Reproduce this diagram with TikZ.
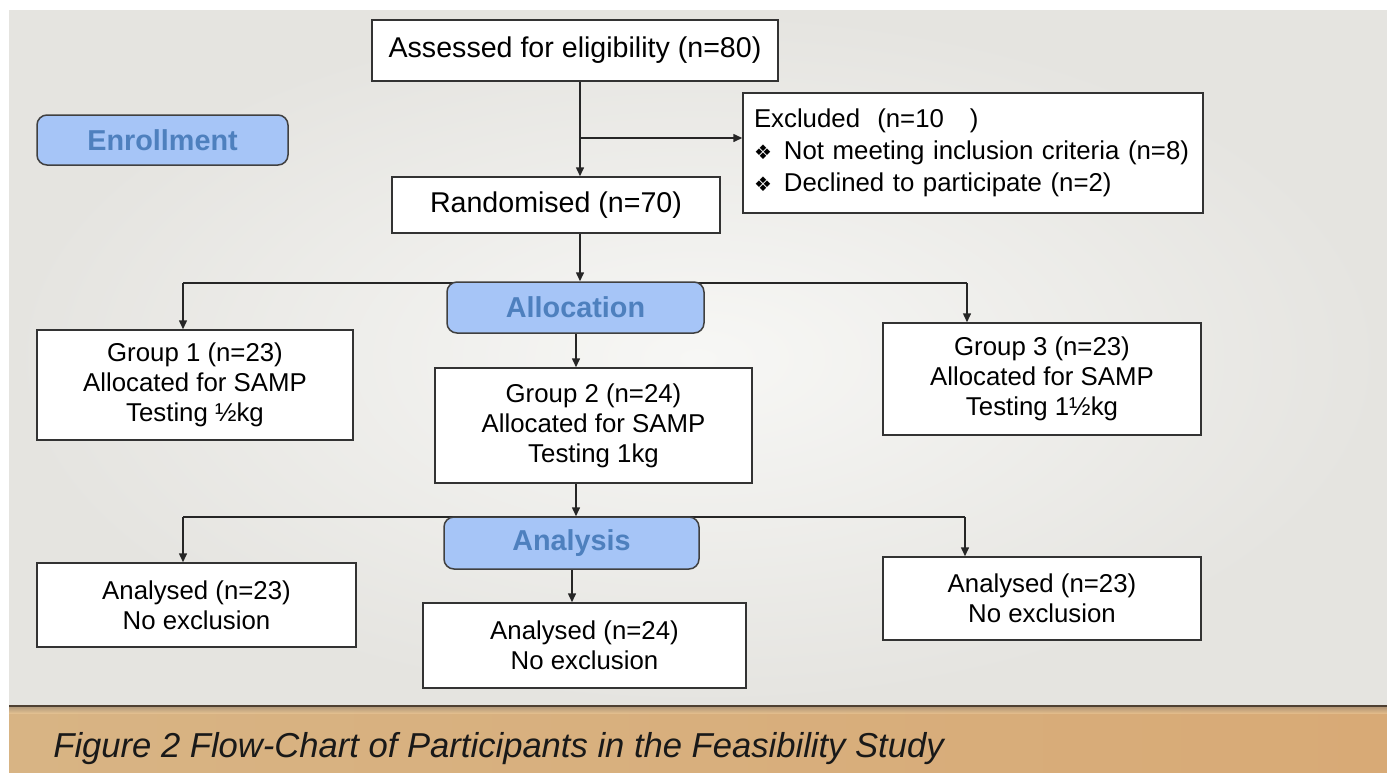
\documentclass[tikz,border=0pt]{standalone}
\usepackage{fontspec}
\setmainfont{Liberation Sans}
\newfontfamily\symfont{DejaVu Sans}
\usetikzlibrary{arrows.meta, positioning, calc, backgrounds}
\definecolor{panelin}{RGB}{247,247,245}
\definecolor{panelout}{RGB}{229,228,224}
\definecolor{stagefill}{RGB}{166,197,247}
\definecolor{stagetext}{RGB}{78,128,190}
\definecolor{woodlight}{RGB}{234,202,156}
\definecolor{woodleft}{RGB}{216,180,132}
\definecolor{woodright}{RGB}{216,170,118}
\definecolor{woodedge}{RGB}{78,64,50}

\tikzset{
  box/.style={draw=black!80, line width=0.75pt, fill=white, align=center,
    inner sep=0pt, font=\fontsize{12.9}{15}\selectfont},
  bigbox/.style={box, font=\fontsize{14.3}{17}\selectfont},
  stage/.style={draw=black!75, line width=0.75pt, fill=stagefill,
    rounded corners=5pt, inner sep=0pt, text=stagetext,
    font=\fontsize{14.4}{17}\selectfont\bfseries},
  flow/.style={draw=black!85, line width=0.75pt},
  arr/.style={flow, -{Triangle[width=4pt,length=4.5pt]}},
}
\newcommand{\bul}{{\symfont\fontsize{10}{15}\selectfont ❖}\hspace{6pt}}

\begin{document}
\begin{tikzpicture}[x=0.5pt, y=-0.5pt]
  \useasboundingbox (0,0) rectangle (1387,772);

  % slide panel and wooden strip
  \begin{pgfonlayer}{background}
    \fill[white] (0,0) rectangle (1387,772);
    \shade[inner color=panelin, outer color=panelout] (9,10) rectangle (1387,706);
    \shade[left color=woodleft, middle color=woodlight, right color=woodright]
      (9,706) rectangle (1387,772);
    \shade[top color=woodedge!70, bottom color=woodlight, opacity=0.5]
      (9,706) rectangle (1387,713);
    \draw[woodedge, line width=1pt] (9,706) -- (1387,706);
  \end{pgfonlayer}

  % stage labels
  \node[stage, minimum width=125.5pt, minimum height=25pt] (enrol) at (162.5,140) {Enrollment};
  \node[stage, minimum width=128.5pt, minimum height=25.5pt] (alloc) at (575.5,307.5) {Allocation};
  \node[stage, minimum width=127.5pt, minimum height=26pt] (anal) at (571.5,543) {Analysis};

  % enrolment
  \node[bigbox, minimum width=203pt, minimum height=30.5pt] (assess) at (575,50.5)
    {Assessed for eligibility (n=80)};
  \node[bigbox, minimum width=164pt, minimum height=28pt] (rand) at (556,205)
    {Randomised (n=70)};
  \node[box, align=left, text width=219pt, inner xsep=5.5pt, minimum height=60pt,
    font=\fontsize{12.9}{16}\selectfont] (excl) at (973,153)
    {Excluded\ \ (n=10\ \ \ )\\
     \bul Not meeting inclusion criteria (n=8)\\
     \bul Declined to participate (n=2)};

  % allocation
  \node[box, minimum width=158pt, minimum height=55pt] (grp1) at (195,385)
    {Group 1 (n=23)\\Allocated for SAMP\\Testing ½kg};
  \node[box, minimum width=158.5pt, minimum height=57.5pt] (grp2) at (593.5,425.5)
    {Group 2 (n=24)\\Allocated for SAMP\\Testing 1kg};
  \node[box, minimum width=159pt, minimum height=56pt] (grp3) at (1042,379)
    {Group 3 (n=23)\\Allocated for SAMP\\Testing 1½kg};

  % analysis
  \node[box, minimum width=159.5pt, minimum height=42pt] (an1) at (196.5,605)
    {Analysed (n=23)\\No exclusion};
  \node[box, minimum width=161.5pt, minimum height=42.5pt] (an2) at (584.5,645.5)
    {Analysed (n=24)\\No exclusion};
  \node[box, minimum width=159pt, minimum height=41.5pt] (an3) at (1042,598.5)
    {Analysed (n=23)\\No exclusion};

  \node[anchor=base west, inner sep=0pt, text=black!90,
    font=\fontsize{17.3}{20}\selectfont\itshape] (caption) at (53,757)
    {Figure 2 Flow-Chart of Participants in the Feasibility Study};

  % connectors
  \coordinate (trunk) at (580,0);
  \coordinate (exsplit) at (580,138);
  \coordinate (allocL) at (183,283);
  \coordinate (allocR) at (967,283);
  \coordinate (mid2) at (576,0);
  \coordinate (anaL) at (183,517);
  \coordinate (anaR) at (965,517);
  \coordinate (mid3) at (572,0);
  \begin{pgfonlayer}{background}
    \draw[arr] (assess.south -| trunk) -- (rand.north -| trunk);
    \draw[arr] (exsplit) -- (exsplit -| excl.west);
    \draw[arr] (rand.south -| trunk) -- (alloc.north -| trunk);
    \draw[flow] (allocL) -- (allocR);
    \draw[arr] (allocL) -- (allocL |- grp1.north);
    \draw[arr] (allocR) -- (allocR |- grp3.north);
    \draw[arr] (alloc.south -| mid2) -- (grp2.north -| mid2);
    \draw[arr] (grp2.south -| mid2) -- (anal.north -| mid2);
    \draw[flow] (anaL) -- (anaR);
    \draw[arr] (anaL) -- (anaL |- an1.north);
    \draw[arr] (anaR) -- (anaR |- an3.north);
    \draw[arr] (anal.south -| mid3) -- (an2.north -| mid3);
  \end{pgfonlayer}
\end{tikzpicture}
\end{document}
